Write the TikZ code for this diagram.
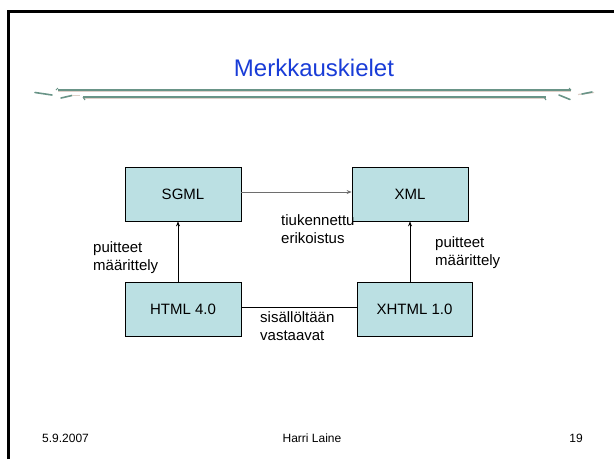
\documentclass[tikz,border=0pt]{standalone}
\usepackage{fontspec}
\setmainfont{Liberation Sans}
\usetikzlibrary{arrows.meta}

\definecolor{boxcyan}{RGB}{187,224,227}
\definecolor{titleblue}{RGB}{25,60,215}
\definecolor{rulegreen}{RGB}{105,148,135}
\definecolor{ruleshade}{RGB}{222,208,200}
\definecolor{linkgray}{RGB}{110,110,110}

\tikzset{
  lang/.style={draw=black, line width=0.8pt, fill=boxcyan, minimum width=116pt,
    minimum height=54pt, inner sep=0pt, font=\fontsize{15}{18}\selectfont},
  note/.style={anchor=west, align=left, inner sep=0pt, font=\fontsize{15}{18}\selectfont},
  link/.style={-{Stealth[length=5pt,width=4pt]}, line width=0.7pt},
  foot/.style={inner sep=0pt, font=\fontsize{12}{14}\selectfont},
}

\begin{document}
\begin{tikzpicture}[x=1pt, y=-1pt]
    \useasboundingbox (0,0) rectangle (614,459);

    % Slide frame
    \draw[line width=2.7pt] (8.7,459) -- (8.7,11.3) -- (614,11.3);

    % Title
    \node[text=titleblue, font=\fontsize{24}{28}\selectfont, inner sep=0pt] (title) at (314,68) {Merkkauskielet};

    % Ornamental rules under the title
    \draw[ruleshade, line width=1.6pt] (58,91.6) -- (571,91.6);
    \draw[ruleshade, line width=1.6pt] (83,98.6) -- (546,98.6);
    \draw[rulegreen, line width=1.4pt] (58,90) -- (571,90);
    \draw[rulegreen, line width=1.4pt] (83,97) -- (546,97);
    \draw[rulegreen, line width=1.6pt, line cap=round] (35,92.5) -- (52,95);
    \draw[rulegreen, line width=1.6pt, line cap=round] (61,98) -- (72,95.5);
    \draw[ruleshade, line width=1.2pt] (72,95.5) -- (80,95.5);
    \draw[rulegreen, line width=1.6pt, line cap=round] (559,95) -- (570,99.5);
    \draw[ruleshade, line width=1.2pt] (578,94.5) -- (594,92.5);
    \draw[rulegreen, line width=1.6pt, line cap=round] (582,94) -- (592,92);
    \draw[rulegreen, line width=1pt] (58,88) -- (56,90);
    \draw[rulegreen, line width=1pt] (83,97) -- (85,100);
    \draw[rulegreen, line width=1pt] (569,88) -- (571,90);
    \draw[rulegreen, line width=1pt] (544,97) -- (546,100);

    % Languages
    \node[lang] (sgml) at (183,194) {SGML};
    \node[lang] (xml) at (410,194) {XML};
    \node[lang] (html) at (183,309.5) {HTML 4.0};
    \node[lang, minimum width=115pt] (xhtml) at (414.5,309.5) {XHTML 1.0};

    % Relations
    \draw[link, linkgray] ([yshift=2pt]sgml.east) -- ([yshift=2pt]xml.west);
    \draw[link] ([xshift=-5pt]html.north) -- ([xshift=-5pt]sgml.south);
    \draw[link] (xhtml.north -| xml.south) -- (xml.south);
    \draw[line width=0.8pt] ([yshift=2.5pt]html.east) -- ([yshift=2.5pt]xhtml.west);

    % Labels
    \node[note] (strict) at (281,229) {tiukennettu\\erikoistus};
    \node[note] (frameL) at (93,257.5) {puitteet\\määrittely};
    \node[note] (frameR) at (435,253) {puitteet\\määrittely};
    \node[note] (same) at (260,326) {sisällöltään\\vastaavat};

    % Footer
    \node[foot, anchor=west] (date) at (42,438) {5.9.2007};
    \node[foot] (author) at (312,438) {Harri Laine};
    \node[foot, anchor=east] (page) at (583,438) {19};
\end{tikzpicture}
\end{document}
